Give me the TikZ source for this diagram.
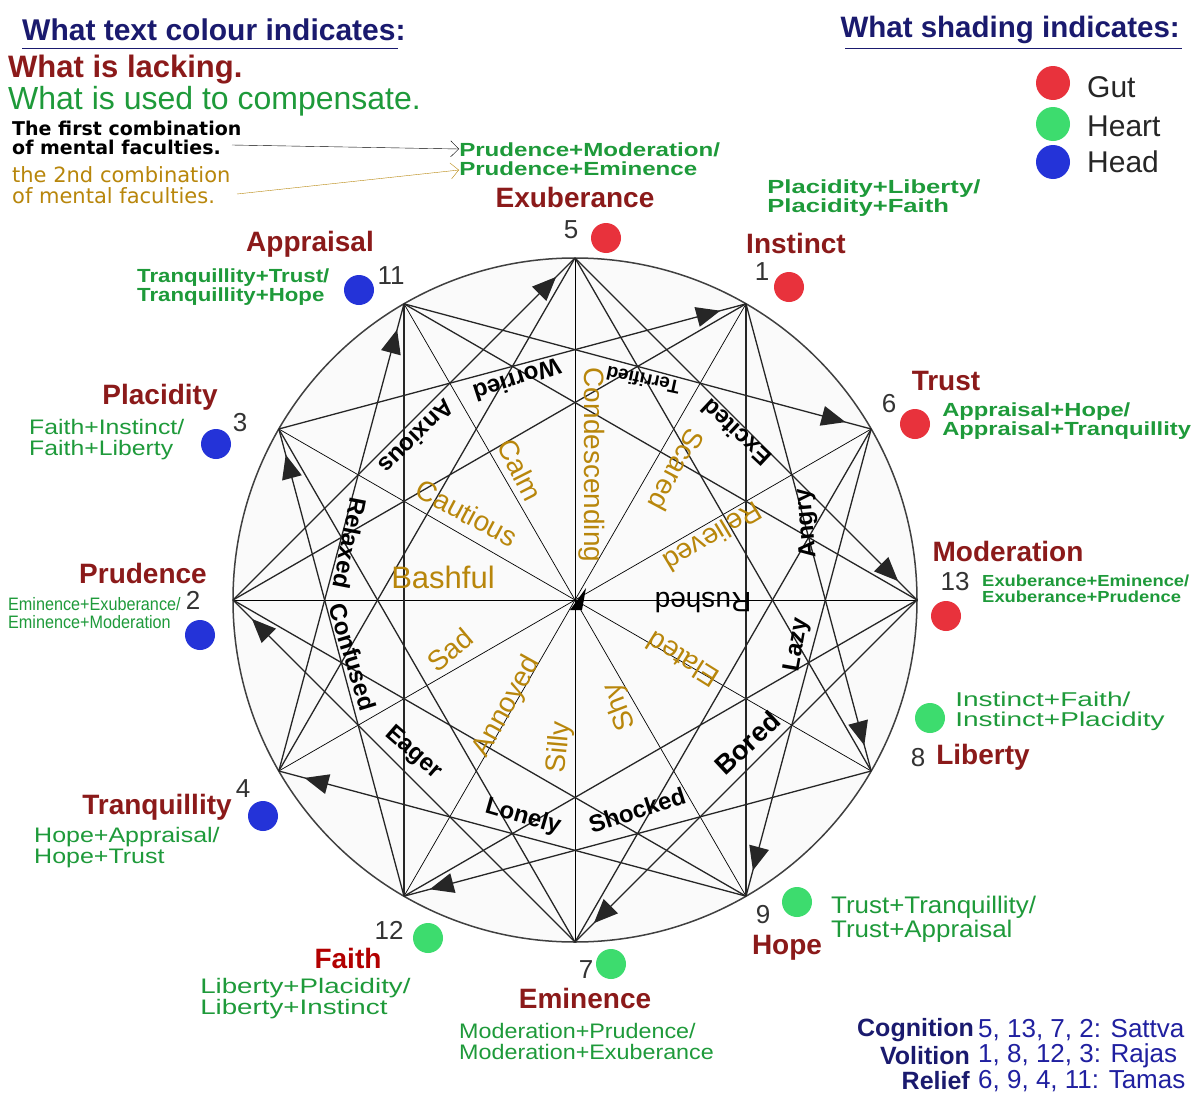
\documentclass[tikz,border=0pt]{standalone}
\usepackage{fontspec}
\setmainfont{Liberation Sans}
\newfontfamily\dvs{DejaVu Sans}
\usetikzlibrary{arrows.meta,decorations.markings}
\newcommand\fsz[1]{\fontsize{#1}{#1}\selectfont}
\definecolor{lack}{HTML}{8B1A1A}
\definecolor{comp}{HTML}{1E9A3A}
\definecolor{gold}{HTML}{B8860B}
\definecolor{navy}{HTML}{1A1A6E}
\definecolor{blu}{HTML}{2020A0}
\definecolor{gut}{HTML}{E8323C}
\definecolor{heart}{HTML}{3DDC6E}
\definecolor{head}{HTML}{2433D8}
\tikzset{
 chord/.style={line width=1.3pt,black!85},
 arr/.style={chord,postaction={decorate},decoration={markings,mark=at position 0.945 with {\arrow{Triangle[length=24pt,width=20pt]}}}},
 diam/.style={line width=0.7pt,black},
 bw/.style={font=\fsz{24}\bfseries,text=black,inner sep=0pt},
 gw/.style={font=\fsz{28},text=gold,inner sep=0pt},
 vname/.style={font=\fsz{28}\bfseries,text=lack,inner sep=0pt},
 num/.style={font=\fsz{26},text=black!80,inner sep=0pt},
 cmb/.style={font=\fsz{19}\bfseries,text=comp,align=left,inner sep=0pt,anchor=west,transform shape},
 dot/.style={circle,minimum size=30pt,inner sep=0pt},
}
\begin{document}
\begin{tikzpicture}[x=1pt,y=-1pt]
\useasboundingbox (0,0) rectangle (1200,1100);
\fill[white] (0,0) rectangle (1200,1100);
\foreach \n/\a in {5/0,1/30,6/60,13/90,8/120,9/150,7/180,12/210,4/240,2/270,3/300,11/330}
  \coordinate (p\n) at ({575+342*sin(\a)},{600-342*cos(\a)});
\coordinate (c) at (578,598);
\draw[line width=1.5pt,black!75,fill=black!2] (575,600) circle (342);
\foreach \a/\b in {5/7,1/12,6/4,13/2,8/3,9/11} \draw[diam] (p\a) -- (p\b);
\foreach \a/\b in {5/8,4/5,1/9,9/2,2/1,6/7,7/3,13/12,12/11,11/13} \draw[chord] (p\a) -- (p\b);
\foreach \a/\b in {2/5,5/13,13/7,7/2,3/1,1/8,8/12,12/3,11/6,6/9,9/4,4/11} \draw[arr] (p\a) -- (p\b);
\fill (c) ++(-8,12) -- ++(16,-22) -- ++(-4,22) -- cycle;
% inner words
\node[bw,rotate=198] (w1) at (517,380) {Worried};
\node[bw,font=\fsz{19}\bfseries,rotate=168] (w2) at (643,380) {Terrified};
\node[bw,rotate=225] (w3) at (417,437) {Anxious};
\node[bw,rotate=137] (w4) at (736,433) {Excited};
\node[bw,rotate=-101] (w5) at (350,543) {Relaxed};
\node[bw,rotate=95] (w6) at (807,523) {Angry};
\node[bw,rotate=-73] (w7) at (353,657) {Confused};
\node[bw,font=\fsz{28},rotate=180] (w8) at (703,603) {Rushed};
\node[bw,rotate=80] (w9) at (797,645) {Lazy};
\node[bw,rotate=-41] (w10) at (413,753) {Eager};
\node[bw,font=\fsz{27}\bfseries,rotate=43] (w11) at (747,743) {Bored};
\node[bw,rotate=-16] (w12) at (523,817) {Lonely};
\node[bw,rotate=18] (w13) at (637,810) {Shocked};
\node[gw,rotate=-90] (g1) at (592,465) {Condescending};
\node[gw,rotate=297] (g2) at (520,470) {Calm};
\node[gw,rotate=242] (g3) at (677,470) {Scared};
\node[gw,rotate=-28] (g4) at (467,513) {Cautious};
\node[gw,rotate=211] (g5) at (713,537) {Relieved};
\node[gw,font=\fsz{31}] (g6) at (443,577) {Bashful};
\node[gw,rotate=40] (g7) at (450,650) {Sad};
\node[gw,rotate=148] (g8) at (683,660) {Elated};
\node[gw,rotate=61] (g9) at (507,707) {Annoyed};
\node[gw,rotate=85] (g10) at (560,747) {Silly};
\node[gw,rotate=111] (g11) at (620,707) {Shy};
% vertex labels
\foreach \nm/\x/\y/\nu/\nx/\ny/\col/\dx/\dy in {
 Exuberance/575/197/5/571/230/gut/606/238,
 Instinct/796/243/1/762/272/gut/789/287,
 Trust/946/381/6/889/404/gut/915/424,
 Moderation/1008/551/13/955/582/gut/946/616,
 Liberty/983/757/8/918/758/heart/930/718,
 Hope/787/948/9/763/915/heart/797/902,
 Eminence/585/998/7/586/970/heart/611/964,
 Tranquillity/157/807/4/243/789/head/263/816,
 Prudence/143/573/2/193/600/head/200/635,
 Placidity/160/397/3/240/423/head/216/444,
 Appraisal/310/244/11/391/276/head/359/290}{
 \node[vname] (n\nu) at (\x,\y) {\nm};
 \node[num] (k\nu) at (\nx,\ny) {\nu};
 \node[dot,fill=\col] (d\nu) at (\dx,\dy) {};
}
\node[vname,text=red!70!black] (n12) at (348,958) {Faith};
\node[num] (k12) at (389,930) {12};
\node[dot,fill=heart] (d12) at (428,938) {};
% combos
\node[cmb,xscale=1.27] (c5) at (459,159) {Prudence+Moderation/\\Prudence+Eminence};
\node[cmb,xscale=1.35] (c1) at (767,198) {Placidity+Liberty/\\Placidity+Faith};
\node[cmb,xscale=1.17] (c11) at (137,287) {Tranquillity+Trust/\\Tranquillity+Hope};
\node[cmb,xscale=1.25] (c6) at (942,421) {Appraisal+Hope/\\Appraisal+Tranquillity};
\node[cmb,font=\fsz{21},xscale=1.18] (c3) at (29,440) {Faith+Instinct/\\Faith+Liberty};
\node[cmb,font=\fsz{16}\bfseries,xscale=1.15] (c13) at (982,589) {Exuberance+Eminence/\\Exuberance+Prudence};
\node[cmb,font=\fsz{18},xscale=0.9] (c2) at (8,613) {Eminence+Exuberance/\\Eminence+Moderation};
\node[cmb,font=\fsz{20},xscale=1.4] (c8) at (955,711) {Instinct+Faith/\\Instinct+Placidity};
\node[cmb,font=\fsz{21},xscale=1.19] (c4) at (34,848) {Hope+Appraisal/\\Hope+Trust};
\node[cmb,font=\fsz{24},xscale=1.08] (c9) at (831,919) {Trust+Tranquillity/\\Trust+Appraisal};
\node[cmb,font=\fsz{21},xscale=1.32] (c12) at (200,999) {Liberty+Placidity/\\Liberty+Instinct};
\node[cmb,font=\fsz{21},xscale=1.11] (c7) at (459,1041) {Moderation+Prudence/\\Moderation+Exuberance};
% legend top left
\node[font=\fsz{30}\bfseries,text=navy,anchor=west,inner sep=0pt] (h1) at (22,30) {What text colour indicates:};
\draw[navy,line width=1pt] (22,48) -- (398,48);
\node[font=\fsz{31}\bfseries,text=lack,anchor=west,inner sep=0pt] (t1) at (8,70) {What is lacking.};
\node[font=\fsz{32},text=comp,anchor=west,inner sep=0pt] (t2) at (8,101) {What is used to compensate.};
\node[font=\dvs\fsz{19}\bfseries,align=left,anchor=west,inner sep=0pt] (t3) at (12,138) {The first combination\\of mental faculties.};
\node[font=\dvs\fsz{21},text=gold,align=left,anchor=west,inner sep=0pt] (t4) at (12,185) {the 2nd combination\\of mental faculties.};
\coordinate (a1) at (232,145);
\coordinate (a2) at (237,194);
\draw[-{Straight Barb[length=8pt]},black] (a1) -- (c5.west |- 0,149);
\draw[-{Straight Barb[length=8pt]},gold] (a2) -- (c5.west |- 0,170);
% legend top right
\node[font=\fsz{29.5}\bfseries,text=navy,anchor=east,inner sep=0pt] (h2) at (1180,30) {What shading indicates:};
\draw[navy,line width=1pt] (845,48) -- (1182,48);
\node[dot,fill=gut,minimum size=34pt] (l1) at (1053,83) {};
\node[dot,fill=heart,minimum size=34pt] (l2) at (1053,124) {};
\node[dot,fill=head,minimum size=34pt] (l3) at (1053,162) {};
\node[font=\fsz{30},anchor=west,inner sep=0pt,text=black!85] (lg1) at (1087,87) {Gut};
\node[font=\fsz{30},anchor=west,inner sep=0pt,text=black!85] (lg2) at (1087,126) {Heart};
\node[font=\fsz{30},anchor=west,inner sep=0pt,text=black!85] (lg3) at (1087,162) {Head};
% bottom right
\node[font=\fsz{25}\bfseries,anchor=east,inner sep=0pt,text=navy] (b1) at (974,1030) {Cognition};
\node[font=\fsz{25}\bfseries,anchor=east,inner sep=0pt,text=navy] (b2) at (970,1056) {Volition};
\node[font=\fsz{25}\bfseries,anchor=east,inner sep=0pt,text=navy] (b3) at (970,1081) {Relief};
\node[font=\fsz{26},anchor=west,inner sep=0pt,text=blu] (b4) at (978,1030) {5, 13, 7, 2: Sattva};
\node[font=\fsz{26},anchor=west,inner sep=0pt,text=blu] (b5) at (978,1056) {1, 8, 12, 3: Rajas};
\node[font=\fsz{26},anchor=west,inner sep=0pt,text=blu] (b6) at (978,1081) {6, 9, 4, 11: Tamas};
\end{tikzpicture}
\end{document}
